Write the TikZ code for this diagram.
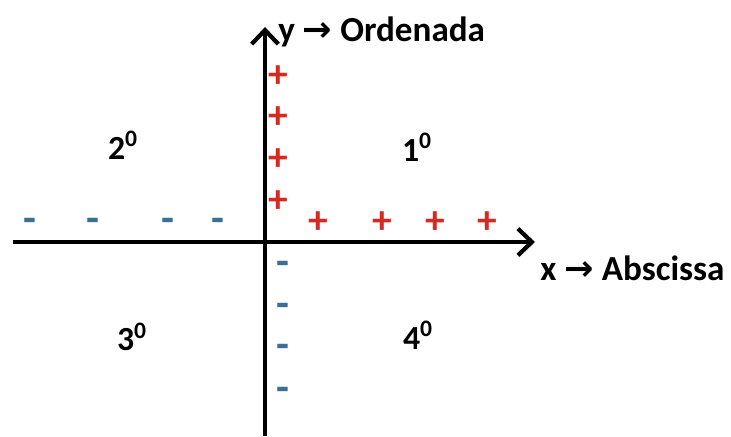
\documentclass[tikz,border=0pt]{standalone}
\usepackage{fontspec}
\setmainfont{Carlito}
\newfontfamily\arrowfont{DejaVu Sans}
\usetikzlibrary{arrows.meta}
\usepackage{xcolor}
\definecolor{signred}{HTML}{D42A22}
\definecolor{signblue}{HTML}{3C6F96}
\newcommand{\pmark}[3]{%
  \node[plussign] (#1) at (#2,#3) {+};}
\newcommand{\mmark}[3]{%
  \node[minussign] (#1) at (#2,#3) {-};}
\tikzset{
  axis/.style={line width=3pt, -{Straight Barb[length=10pt,width=19pt,line width=3pt]}},
  plussign/.style={text=signred, font=\bfseries\fontsize{28}{28}\selectfont, inner sep=0pt},
  minussign/.style={text=signblue, font=\bfseries\fontsize{30}{30}\selectfont, inner sep=0pt},
  quadlabel/.style={font=\bfseries\fontsize{24}{24}\selectfont},
  axislabel/.style={font=\bfseries\fontsize{25}{25}\selectfont, anchor=west, inner sep=0pt}
}

\begin{document}
\begin{tikzpicture}
\useasboundingbox (0,0) rectangle (18.275,10.9);

% ---- the two axes ----
\coordinate (xstart) at (0.325,4.85);
\coordinate (xend) at (13.375,4.85);
\coordinate (ystart) at (6.625,0);
\coordinate (yend) at (6.625,10.225);
\draw[axis] (xstart) -- (xend);
\draw[axis] (ystart) -- (yend);
\node[axislabel] (ylabel) at (6.95,10.1) {y {\arrowfont\bfseries →} Ordenada};
\node[axislabel] (xlabel) at (13.5,4.2) {x {\arrowfont\bfseries →} Abscissa};

% ---- positive signs ----
\pmark{py1}{6.95}{5.85}
\pmark{py2}{6.95}{6.9}
\pmark{py3}{6.95}{7.95}
\pmark{py4}{6.95}{8.975}
\pmark{px1}{7.95}{5.325}
\pmark{px2}{9.55}{5.325}
\pmark{px3}{10.875}{5.325}
\pmark{px4}{12.175}{5.325}

% ---- negative signs ----
\mmark{mx1}{0.75}{5.275}
\mmark{mx2}{2.325}{5.275}
\mmark{mx3}{4.2}{5.275}
\mmark{mx4}{5.45}{5.275}
\mmark{my1}{7.075}{4.2}
\mmark{my2}{7.075}{3.15}
\mmark{my3}{7.075}{2.125}
\mmark{my4}{7.075}{1.05}

% ---- quadrants ----
\node[quadlabel] (q1) at (10.425,7.225) {1\textsuperscript{0}};
\node[quadlabel] (q2) at (3.075,7.275) {2\textsuperscript{0}};
\node[quadlabel] (q3) at (3.3,2.475) {3\textsuperscript{0}};
\node[quadlabel] (q4) at (10.45,2.525) {4\textsuperscript{0}};

\end{tikzpicture}
\end{document}
